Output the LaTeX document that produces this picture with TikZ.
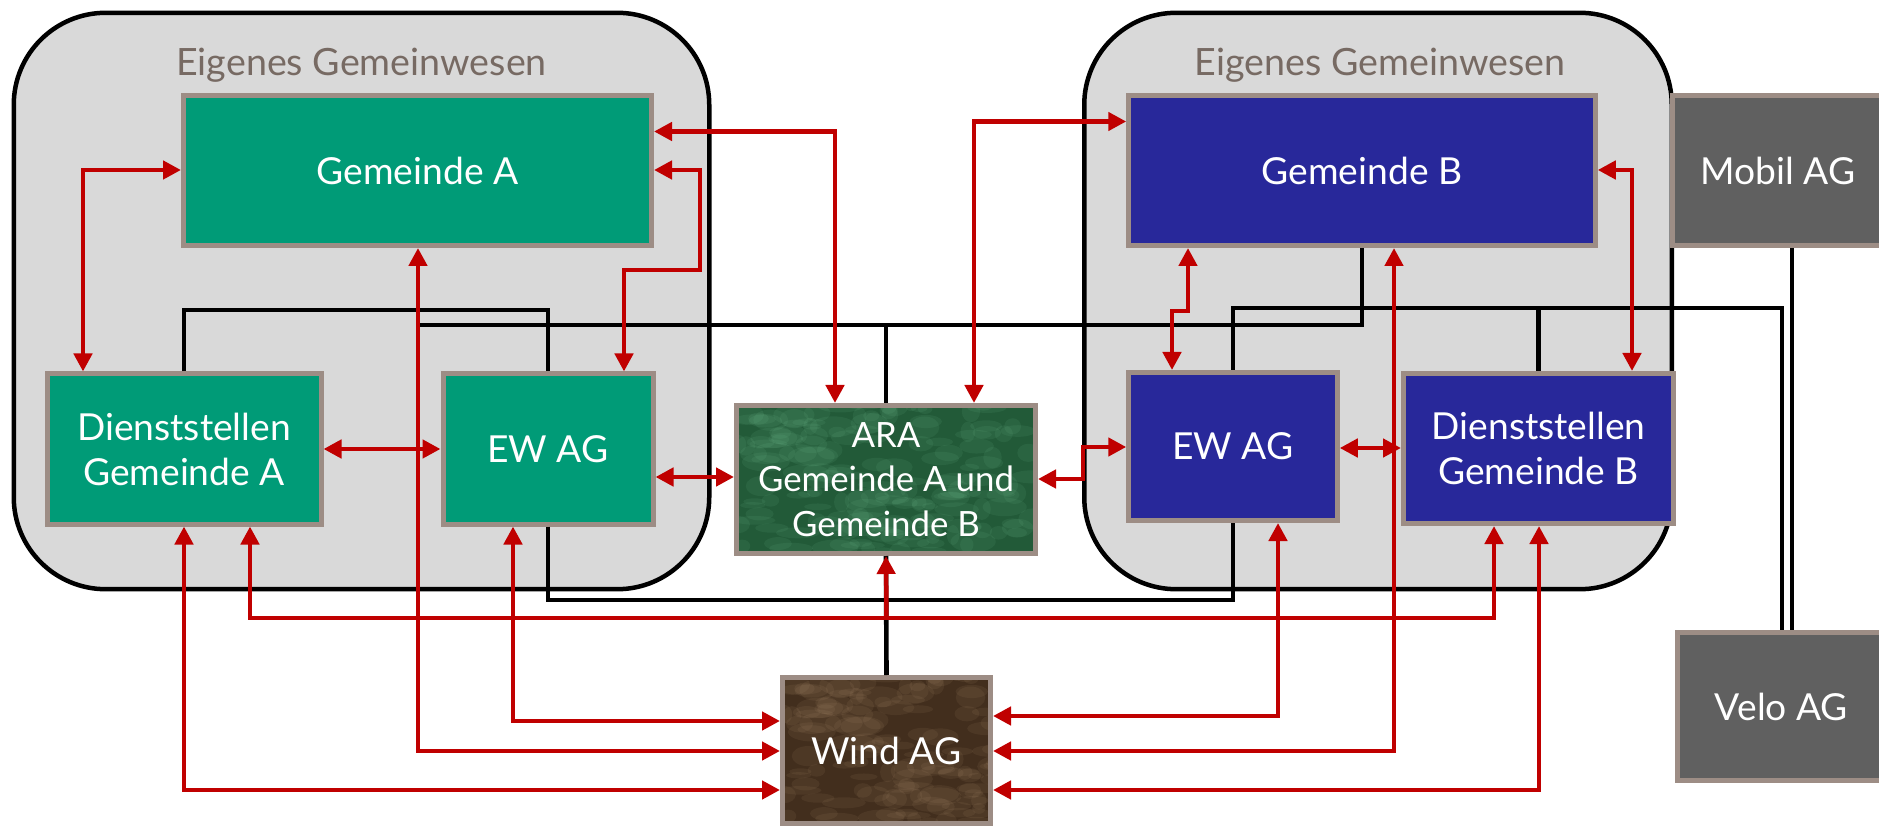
\documentclass[tikz,border=0pt]{standalone}
\usepackage{fontspec}
\setmainfont{Lato}
\usetikzlibrary{arrows.meta}

\definecolor{gwgrau}{HTML}{D9D9D9}
\definecolor{gwtext}{HTML}{776A63}
\definecolor{gruen}{HTML}{009B77}
\definecolor{blau}{HTML}{28289A}
\definecolor{rahmen}{HTML}{9D8D85}
\definecolor{dunkelgrau}{HTML}{606060}
\definecolor{aragruen}{HTML}{225A38}
\definecolor{arahell}{HTML}{80CFA0}
\definecolor{windbraun}{HTML}{422E1D}
\definecolor{windhell}{HTML}{BE9E7C}
\definecolor{pfeilrot}{HTML}{C00000}

\tikzset{
  gemeinwesen/.style={draw=black, fill=gwgrau, line width=2.25pt, rounded corners=46pt, inner sep=0pt},
  gwlabel/.style={text=gwtext, anchor=base, font=\fontsize{18.8}{22}\selectfont},
  feld/.style={draw=rahmen, line width=2.5pt, text=white, align=center, inner sep=0pt,
    font=\fontsize{18.6}{22.5}\selectfont},
  marmor/.style 2 args={fill=#1, path picture={
    \pgfmathsetseed{7}
    \foreach \i in {1,...,170}{
      \pgfmathsetmacro{\px}{rnd}
      \pgfmathsetmacro{\py}{rnd}
      \pgfmathsetmacro{\pr}{3+9*rnd}
      \pgfmathsetmacro{\pq}{1.5+4*rnd}
      \fill[#2, opacity=0.09]
        ([xshift={\px*150pt}, yshift={\py*76pt}]path picture bounding box.south west)
        ellipse [x radius=\pr pt, y radius=\pq pt];
    }}},
  bline/.style={draw=black, line width=2.3pt},
  rline/.style={draw=pfeilrot, line width=2.25pt}
}

\begin{document}
\begin{tikzpicture}[x=0.5pt, y=-0.5pt, >={Triangle[length=9pt, width=9pt]}]
  \useasboundingbox (0,0) rectangle (1879,828);

  % Gemeinwesen
  \node[gemeinwesen, minimum width=347.75pt, minimum height=288.2pt] (gwA) at (361.5,301) {};
  \node[gemeinwesen, minimum width=293.75pt, minimum height=288.2pt] (gwB) at (1378,301) {};
  \node[gwlabel] (gwAtext) at (361.5,76) {Eigenes Gemeinwesen};
  \node[gwlabel] (gwBtext) at (1380,76) {Eigenes Gemeinwesen};

  % Felder
  \node[feld, fill=gruen, minimum width=234pt, minimum height=75pt] (GA) at (417.5,170.5) {Gemeinde A};
  \node[feld, fill=gruen, minimum width=137pt, minimum height=75pt] (DA) at (184,449) {Dienststellen\\Gemeinde A};
  \node[feld, fill=gruen, minimum width=105pt, minimum height=75pt] (EA) at (548,449) {EW AG};
  \node[feld, marmor={aragruen}{arahell}, minimum width=149.5pt, minimum height=74pt,
    font=\fontsize{17.4}{22.2}\selectfont] (ARA) at (886,479.5) {ARA\\Gemeinde A und\\Gemeinde B};
  \node[feld, fill=blau, minimum width=233.25pt, minimum height=75pt] (GB) at (1362,170.5) {Gemeinde B};
  \node[feld, fill=blau, minimum width=104.25pt, minimum height=74pt] (EB) at (1233,446.5) {EW AG};
  \node[feld, fill=blau, minimum width=135pt, minimum height=75pt] (DB) at (1538.5,448.5) {Dienststellen\\Gemeinde B};
  \node[feld, fill=dunkelgrau, minimum width=105.5pt, minimum height=75pt] (Mobil) at (1778,170.5) {Mobil AG};
  \node[feld, fill=dunkelgrau, minimum width=104pt, minimum height=74pt] (Velo) at (1781.5,706.5) {Velo AG};
  \node[feld, marmor={windbraun}{windhell}, minimum width=104pt, minimum height=73pt] (Wind) at (886.5,750.5) {Wind AG};

  \coordinate (busende) at (420,325);
  \coordinate (abzweig) at (886.5,618);

  % schwarze Leitungen
  \draw[bline] (DA.north) -- (DA.north |- 0,310) -| (EA.north);
  \draw[bline] (GB.south) |- (busende);
  \draw[bline] (ARA.north) -- (ARA.north |- busende);
  \draw[bline] (EB.north) -- (EB.north |- 0,308) -| (Velo.north -| 1782,0);
  \draw[bline] (DB.north) -- (DB.north |- 0,308);
  \draw[bline] (Mobil.south -| 1792,0) -- (Velo.north -| 1792,0);
  \draw[bline] (EA.south) -- (EA.south |- 0,600) -| (EB.south);
  \draw[bline] (Wind.north) -- (ARA.south);

  % rote Pfeile
  \draw[rline, <->] (GA.west |- 0,170) -| (DA.north -| 83,0);
  \draw[rline, <->] (GA.east |- 0,170) -| (700,270) -| (EA.north -| 624,0);
  \draw[rline, <->] (GA.east |- 0,131.5) -| (ARA.north -| 835,0);
  \draw[rline, <->] (GA.south -| 418,0) |- (Wind.west |- 0,751);
  \draw[rline, <->] (DA.east |- 0,449) -- (EA.west |- 0,449);
  \draw[rline, <->] (EA.east |- 0,477) -- (ARA.west |- 0,477);
  \draw[rline, <->] (EA.south -| 513,0) |- (Wind.west |- 0,721);
  \draw[rline, <->] (DA.south -| 184,0) |- (Wind.west |- 0,790);
  \draw[rline, <->] (DA.south -| 250,0) -- (250,618) -| (DB.south -| 1494,0);
  \draw[rline, ->] (abzweig) -- (ARA.south);
  \draw[rline, <->] (ARA.north -| 974,0) |- (GB.west |- 0,121.5);
  \draw[rline, <->] (ARA.east |- 0,479) -| (1083,447) -- (EB.west |- 0,447);
  \draw[rline, <->] (GB.south -| 1188,0) -- (1188,311) -| (EB.north -| 1172,0);
  \draw[rline, <->] (GB.east |- 0,170) -| (DB.north -| 1632,0);
  \draw[rline, <->] (GB.south -| 1394,0) |- (Wind.east |- 0,751);
  \draw[rline, <->] (EB.east |- 0,448) -- (DB.west |- 0,448);
  \draw[rline, <->] (EB.south -| 1278,0) |- (Wind.east |- 0,716);
  \draw[rline, <->] (DB.south -| 1539,0) |- (Wind.east |- 0,790);
\end{tikzpicture}
\end{document}
